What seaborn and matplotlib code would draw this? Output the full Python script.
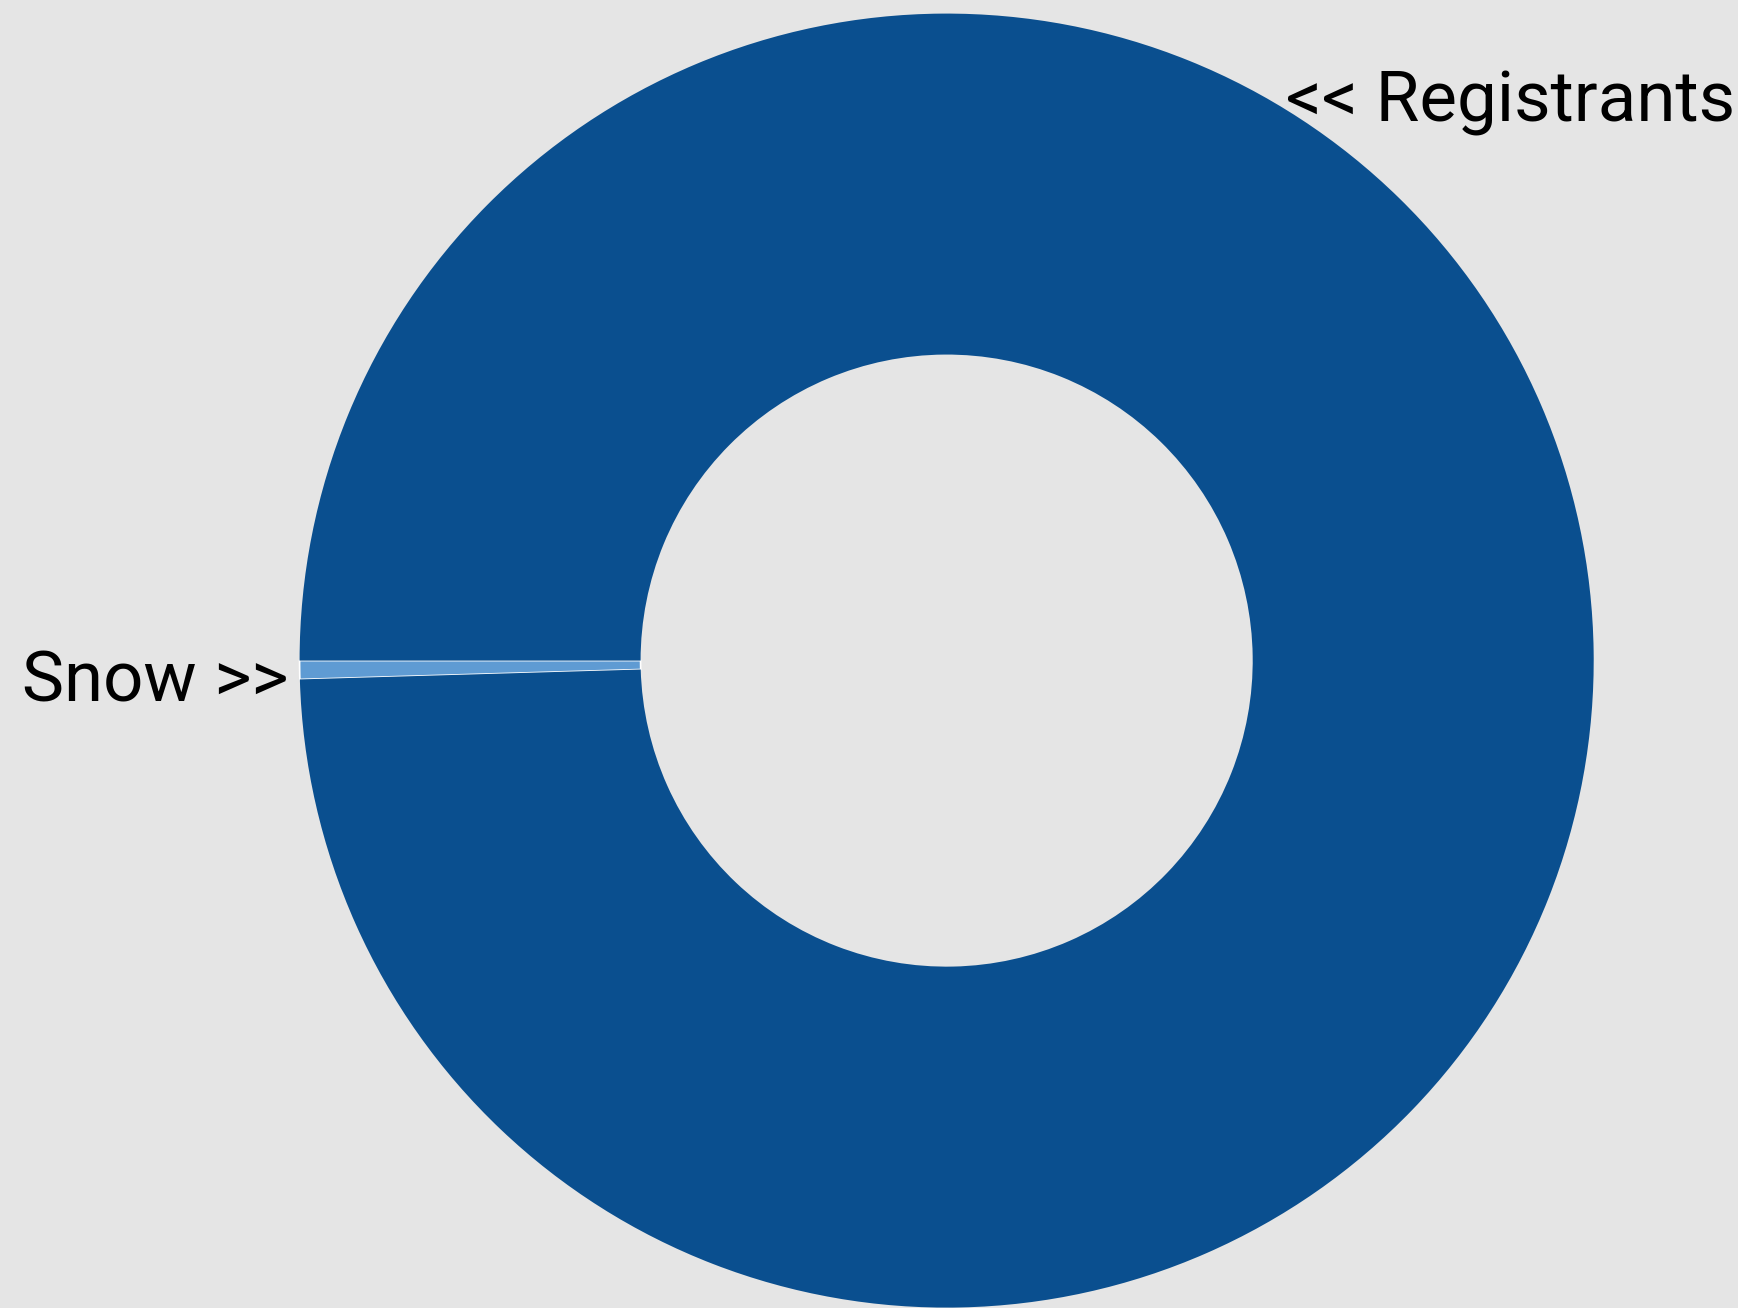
import matplotlib.pyplot as plt
import seaborn as sns

# slice data
labels = ["Registrants", "Snow"]
values = [215, 1]
colors = ["#0a4f8f", "#5f9bd3"]
label_text = ["<< Registrants", "Snow >>"]

sns.set_theme(style="white", rc={"axes.facecolor": "#e5e5e5", "figure.facecolor": "#e5e5e5"})
plt.rcParams['font.family'] = ['Roboto', 'DejaVu Sans']

fig = plt.figure(figsize=(17.38, 13.08), dpi=100)
ax = fig.add_axes([0, 0, 1, 1])

# Snow first so it starts at 180 deg going down
wedges, _ = ax.pie(values[::-1], colors=colors[::-1], startangle=180, counterclock=True,
                   radius=1, wedgeprops=dict(width=0.527, edgecolor="white", linewidth=1.2))
wedges[1].set_edgecolor(colors[0])
wedges[1].set_linewidth(0)

ax.set_aspect("auto")
ax.set_xlim(-1.463, 1.223)
ax.set_ylim(-1.0006, 1.021)
ax.axis("off")

ax.text(-1.017, -0.033, label_text[1], ha="right", va="center", fontsize=51, color="black")
ax.text(0.525, 0.863, label_text[0], ha="left", va="center", fontsize=51, color="black")

fig.savefig("out.png", dpi=100, facecolor=fig.get_facecolor())
